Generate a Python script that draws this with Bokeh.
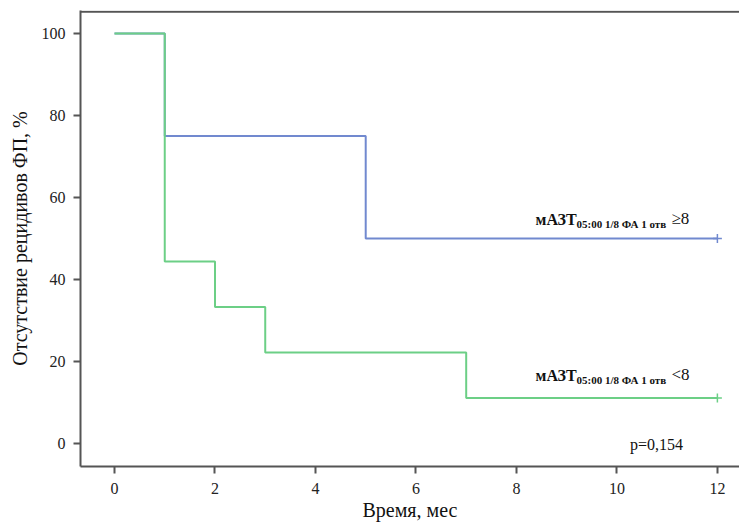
from bokeh.plotting import figure
from bokeh.models import Range1d, Span, Label, FixedTicker
from bokeh.embed import file_html
from bokeh.resources import INLINE

# Data (Kaplan–Meier steps)
blue_t = [0, 1, 5, 12]
blue_s = [100, 75, 50, 50]
green_t = [0, 1, 2, 3, 7, 12]
green_s = [100, 44.4, 33.3, 22.2, 11.1, 11.1]
x_ticks = [0, 2, 4, 6, 8, 10, 12]
y_ticks = [0, 20, 40, 60, 80, 100]

BLUE = "#7189cf"
GREEN = "#6ccf86"
AX = "#555555"
SERIF = "Liberation Serif"

p = figure(width=739, height=524, output_backend="svg", toolbar_location=None,
           x_range=Range1d(-0.677, 12.44), y_range=Range1d(-5.6, 105.6),
           min_border_left=80, min_border_right=0, min_border_top=10, min_border_bottom=58)
p.outline_line_color = None
p.xgrid.visible = False
p.ygrid.visible = False
p.background_fill_color = "white"
p.border_fill_color = "white"

p.step(blue_t, blue_s, mode="after", line_color=BLUE, line_width=2)
p.step(green_t, green_s, mode="after", line_color=GREEN, line_width=2)
p.scatter([blue_t[-1]], [blue_s[-1]], marker="cross", size=9, line_color=BLUE, line_width=1.5)
p.scatter([green_t[-1]], [green_s[-1]], marker="cross", size=9, line_color=GREEN, line_width=1.5)

p.add_layout(Span(location=105.3, dimension="width", line_color=AX, line_width=2))

for ax in (p.xaxis[0], p.yaxis[0]):
    ax.axis_line_color = AX
    ax.axis_line_width = 2
    ax.major_tick_line_color = AX
    ax.major_tick_line_width = 2
    ax.major_tick_out = 7
    ax.major_tick_in = 0
    ax.minor_tick_line_color = None
    ax.major_label_text_font = SERIF
    ax.major_label_text_font_size = "16px"
    ax.major_label_text_color = "#222222"
    ax.axis_label_text_font = SERIF
    ax.axis_label_text_font_size = "20px"
    ax.axis_label_text_font_style = "normal"
    ax.axis_label_text_color = "#111111"

p.xaxis.ticker = FixedTicker(ticks=x_ticks)
p.yaxis.ticker = FixedTicker(ticks=y_ticks)
p.xaxis.axis_label = "Время, мес"
p.yaxis.axis_label = "Отсутствие рецидивов ФП, %"
p.xaxis.major_label_standoff = 9
p.yaxis.major_label_standoff = 8
p.xaxis.axis_label_standoff = 2
p.yaxis.axis_label_standoff = 8

def group_label(yv, yoff, suffix):
    p.add_layout(Label(x=8.38, y=yv, y_offset=yoff, text="мАЗТ", text_font=SERIF,
                       text_font_style="bold", text_font_size="16px", text_color="#111111"))
    p.add_layout(Label(x=8.38, y=yv, y_offset=yoff - 2, x_offset=41, text="05:00 1/8 ФА 1 отв",
                       text_font=SERIF, text_font_style="bold", text_font_size="11px",
                       text_color="#111111"))
    p.add_layout(Label(x=8.38, y=yv, y_offset=yoff, x_offset=136, text=suffix, text_font=SERIF,
                       text_font_size="17px", text_color="#111111"))

group_label(blue_s[-1], 11, "\u2265" + "8")
group_label(green_s[-1], 14, "<8")

p.add_layout(Label(x=10.79, y=-2.4, text="p=0,154", text_align="center", text_font=SERIF,
                   text_font_size="16px", text_color="#111111"))

open("out.html", "w").write(file_html(p, INLINE))
